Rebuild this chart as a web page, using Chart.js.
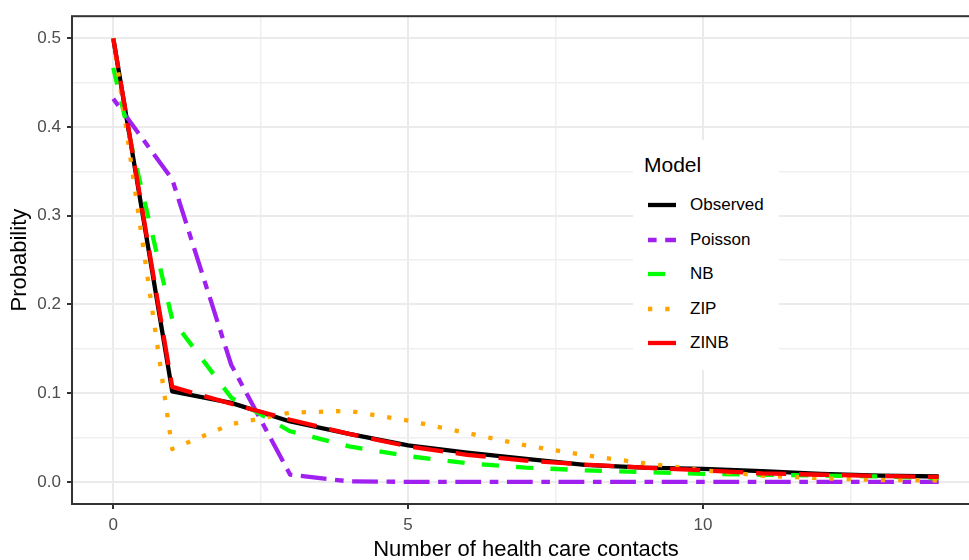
<!DOCTYPE html>
<html>
<head>
<meta charset="utf-8">
<title>Model fit: number of health care contacts</title>
<script src="https://cdn.jsdelivr.net/npm/chart.js@4.4.1/dist/chart.umd.min.js"></script>
<style>
  html, body { margin: 0; padding: 0; background: #fff; overflow: hidden; width: 969px; height: 560px; }
  #wrap { position: relative; width: 990px; height: 560px; }
  #plot { position: absolute; left: 0; top: 0; }
  #legend {
    position: absolute; left: 633px; top: 140px; width: 146px; height: 230px;
    background: #fff; font-family: "Liberation Sans", Arial, sans-serif;
  }
  #legend .ttl { position: absolute; left: 11px; top: 13px; font-size: 21px; line-height: 24px; color: #000; }
  #legend .key { position: absolute; left: 15px; width: 28px; height: 10px; }
  #legend .lab { position: absolute; left: 57px; font-size: 17px; line-height: 20px; color: #000; white-space: nowrap; }
</style>
</head>
<body>
<div id="wrap">
  <canvas id="plot" width="990" height="560"></canvas>
  <div id="legend"><div class="ttl">Model</div></div>
</div>
<script>
// Number of health care contacts (x) and the probability of each count
const contacts = [0, 1, 2, 3, 4, 5, 6, 7, 8, 9, 10, 11, 12, 13, 14];
const observed = [0.500, 0.102, 0.089, 0.068, 0.054, 0.041, 0.033, 0.026, 0.019, 0.016, 0.0145, 0.012, 0.009, 0.007, 0.006];
const poisson  = [0.432, 0.341, 0.132, 0.008, 0.0005, 0, 0, 0, 0, 0, 0, 0, 0, 0, 0];
const nb       = [0.467, 0.183, 0.095, 0.057, 0.040, 0.029, 0.021, 0.016, 0.013, 0.011, 0.009, 0.008, 0.007, 0.006, 0.004];
const zip      = [0.500, 0.037, 0.065, 0.078, 0.080, 0.069, 0.055, 0.041, 0.030, 0.021, 0.013, 0.007, 0.004, 0.002, 0.0015];
const zinb     = [0.500, 0.107, 0.088, 0.070, 0.054, 0.040, 0.0305, 0.024, 0.0195, 0.016, 0.013, 0.0095, 0.008, 0.0065, 0.0055];

const modelNames = ['Observed', 'Poisson', 'NB', 'ZIP', 'ZINB'];
const modelValues = [observed, poisson, nb, zip, zinb];

// Axis breaks
const xBreaks = [0, 2.5, 5, 7.5, 10, 12.5];
const xLabelled = [0, 5, 10];
const yBreaks = [0, 0.05, 0.1, 0.15, 0.2, 0.25, 0.3, 0.35, 0.4, 0.45, 0.5];

// Line styles (R-like linetypes scaled by the line width)
const LW = 4.3;
const styles = [
  { color: '#000000', dash: [] },                             // solid
  { color: '#A020F0', dash: [2 * LW, 2 * LW, 6 * LW, 2 * LW] }, // twodash
  { color: '#00FF00', dash: [4 * LW, 4 * LW] },               // dashed
  { color: '#FFA500', dash: [1 * LW, 3 * LW] },               // dotted
  { color: '#FF0000', dash: [7 * LW, 3 * LW] }                // longdash
];

const FONT = "'Liberation Sans', Arial, sans-serif";
const isMajorX = v => xLabelled.includes(v);
const isMajorY = v => Math.round(v * 100) % 10 === 0;

const datasets = modelNames.map((name, i) => ({
  label: name,
  data: contacts.map((c, j) => ({ x: c, y: modelValues[i][j] })),
  borderColor: styles[i].color,
  backgroundColor: styles[i].color,
  borderWidth: LW,
  borderDash: styles[i].dash,
  borderCapStyle: 'butt',
  borderJoinStyle: 'round',
  pointRadius: 0,
  tension: 0,
  fill: false,
  order: modelNames.length - i
}));

// Panel border drawn above the lines
const panelBorder = {
  id: 'panelBorder',
  afterDatasetsDraw(chart) {
    const { ctx, chartArea: a } = chart;
    ctx.save();
    ctx.strokeStyle = '#333333';
    ctx.lineWidth = 2;
    ctx.strokeRect(a.left, a.top, a.right - a.left, a.bottom - a.top);
    ctx.restore();
  }
};

new Chart(document.getElementById('plot'), {
  type: 'line',
  data: { datasets },
  options: {
    responsive: false,
    animation: false,
    devicePixelRatio: 1,
    layout: { padding: { top: 9, right: 10, left: 0, bottom: 0 } },
    plugins: { legend: { display: false }, tooltip: { enabled: false } },
    scales: {
      x: {
        type: 'linear',
        min: -0.7, max: 14.7,
        afterBuildTicks: s => { s.ticks = xBreaks.map(v => ({ value: v })); },
        afterFit: s => { s.height = 56; },
        ticks: {
          autoSkip: false, maxRotation: 0, padding: 6,
          color: '#4D4D4D', font: { family: FONT, size: 17 },
          callback: v => isMajorX(v) ? String(v) : ''
        },
        grid: {
          color: c => isMajorX(c.tick.value) ? '#EBEBEB' : '#EFEFEF',
          lineWidth: c => isMajorX(c.tick.value) ? 2 : 1.5,
          tickLength: 5,
          tickWidth: 2,
          tickColor: c => isMajorX(c.tick.value) ? '#333333' : 'rgba(0,0,0,0)'
        },
        border: { display: false },
        title: {
          display: true, text: 'Number of health care contacts', color: '#000',
          font: { family: FONT, size: 22, lineHeight: 1 }, padding: { top: 0, bottom: -1 }
        }
      },
      y: {
        type: 'linear',
        min: -0.025, max: 0.525,
        afterBuildTicks: s => { s.ticks = yBreaks.map(v => ({ value: v })); },
        afterFit: s => { s.width = 72; },
        ticks: {
          autoSkip: false, padding: 6,
          color: '#4D4D4D', font: { family: FONT, size: 17 },
          callback: v => isMajorY(v) ? v.toFixed(1) : ''
        },
        grid: {
          color: c => isMajorY(c.tick.value) ? '#EBEBEB' : '#EFEFEF',
          lineWidth: c => isMajorY(c.tick.value) ? 2 : 1.5,
          tickLength: 5,
          tickWidth: 2,
          tickColor: c => isMajorY(c.tick.value) ? '#333333' : 'rgba(0,0,0,0)'
        },
        border: { display: false },
        title: {
          display: true, text: 'Probability', color: '#000',
          font: { family: FONT, size: 22, lineHeight: 1 }, padding: { top: 9, bottom: 0 }
        }
      }
    }
  },
  plugins: [panelBorder]
});

// Legend placed inside the panel
const legend = document.getElementById('legend');
const svgNS = 'http://www.w3.org/2000/svg';
modelNames.forEach((name, i) => {
  const cy = 65 + i * 34.6;
  const svg = document.createElementNS(svgNS, 'svg');
  svg.setAttribute('class', 'key');
  svg.setAttribute('width', '28');
  svg.setAttribute('height', '10');
  svg.style.top = (cy - 5) + 'px';
  const line = document.createElementNS(svgNS, 'line');
  line.setAttribute('x1', '0'); line.setAttribute('x2', '28');
  line.setAttribute('y1', '5'); line.setAttribute('y2', '5');
  line.setAttribute('stroke', styles[i].color);
  line.setAttribute('stroke-width', String(LW));
  line.setAttribute('stroke-linecap', 'butt');
  if (styles[i].dash.length) line.setAttribute('stroke-dasharray', styles[i].dash.join(' '));
  svg.appendChild(line);
  legend.appendChild(svg);
  const lab = document.createElement('div');
  lab.className = 'lab';
  lab.textContent = name;
  lab.style.top = (cy - 10) + 'px';
  legend.appendChild(lab);
});
</script>
</body>
</html>
